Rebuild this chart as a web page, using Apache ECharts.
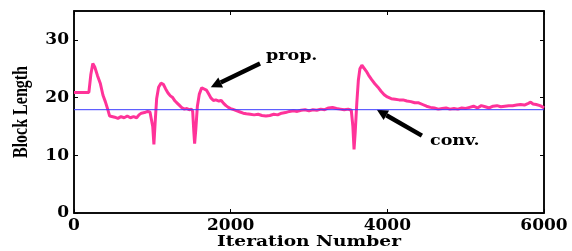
<!DOCTYPE html>
<html><head><meta charset="utf-8">
<script src="https://cdn.jsdelivr.net/npm/echarts@6/dist/echarts.min.js"></script>
<style>html,body{margin:0;padding:0;background:#fff}#c{width:572px;height:251px}</style>
</head><body><div id="c"></div>
<script>
var xTicks = [0, 2000, 4000, 6000];
var yTicks = [0, 10, 20, 30];
var convValue = 17.9;
var propData = [[0,20.9],[190,20.9],[215,24.0],[240,25.9],[265,25.3],[300,23.8],[335,22.5],[370,20.4],[400,19.3],[430,18.0],[455,16.8],[480,16.5],[520,16.6],[560,16.4],[600,16.7],[640,16.5],[680,16.8],[720,16.5],[760,16.7],[800,16.5],[830,17.0],[860,17.3],[900,17.4],[940,17.6],[970,17.5],[990,17.3],[1005,15.0],[1020,11.9],[1035,15.5],[1055,19.8],[1080,21.8],[1110,22.5],[1140,22.3],[1170,21.5],[1200,20.8],[1230,20.3],[1260,20.0],[1290,19.4],[1320,19.0],[1350,18.6],[1380,18.2],[1410,18.0],[1440,18.1],[1470,17.9],[1500,18.0],[1515,17.6],[1530,14.0],[1540,12.0],[1555,14.5],[1575,18.5],[1600,20.6],[1630,21.7],[1655,21.9],[1690,21.3],[1720,20.6],[1750,19.9],[1780,19.5],[1810,19.6],[1850,19.4],[1880,19.5],[1910,19.0],[1940,18.6],[1970,18.3],[2000,18.1],[2040,17.9],[2080,17.7],[2120,17.5],[2160,17.3],[2200,17.2],[2250,17.1],[2300,17.0],[2350,17.1],[2400,16.9],[2450,16.8],[2500,16.9],[2550,17.1],[2600,17.0],[2650,17.3],[2700,17.4],[2750,17.6],[2800,17.7],[2850,17.6],[2900,17.8],[2950,17.9],[3000,17.7],[3050,17.9],[3100,17.8],[3150,18.0],[3200,17.9],[3250,18.2],[3300,18.3],[3350,18.1],[3400,18.0],[3450,17.9],[3500,18.0],[3540,17.8],[3560,15.0],[3575,11.0],[3590,14.0],[3610,19.0],[3630,23.0],[3650,25.0],[3675,25.6],[3700,25.4],[3730,24.6],[3760,23.9],[3800,23.1],[3840,22.4],[3880,21.8],[3920,21.1],[3960,20.5],[4000,20.1],[4050,19.8],[4100,19.7],[4150,19.6],[4200,19.6],[4250,19.4],[4300,19.3],[4350,19.1],[4400,19.1],[4450,18.8],[4500,18.5],[4550,18.3],[4600,18.2],[4650,18.0],[4700,18.1],[4750,18.2],[4800,18.0],[4850,18.1],[4900,18.0],[4950,18.2],[5000,18.1],[5050,18.3],[5100,18.5],[5150,18.2],[5200,18.6],[5250,18.4],[5300,18.2],[5350,18.5],[5400,18.6],[5450,18.4],[5500,18.5],[5550,18.6],[5600,18.6],[5650,18.7],[5700,18.8],[5750,18.7],[5800,19.0],[5830,19.2],[5860,18.9],[5900,18.8],[5950,18.6],[5980,18.4],[6000,18.2]];
var annotations = [
  {text:'prop.', head:[1746,21.8], tail:[2375,25.9]},
  {text:'conv.', head:[3866,17.9], tail:[4441,13.4]}
];

var chart = echarts.init(document.getElementById('c'), null, {renderer:'canvas'});
var F = 'DejaVu Serif';
var axisLineStyle = {color:'#000', width:1.5};
function fmt(v){ return String(v); }
chart.setOption({
  animation:false,
  grid:{left:74, right:28, top:11, bottom:38, show:true, borderColor:'#000', borderWidth:1.5, backgroundColor:'transparent'},
  xAxis:[{type:'value', min:0, max:6000, interval:2000,
    axisLine:{show:true, onZero:false, lineStyle:axisLineStyle},
    axisTick:{show:true, inside:true, length:4, lineStyle:{color:'#000'}},
    axisLabel:{fontFamily:F, fontWeight:'bold', fontSize:17, color:'#000', margin:4, formatter:fmt},
    splitLine:{show:false}},
    {type:'value', position:'top', min:0, max:6000, interval:2000,
    axisLine:{show:true, onZero:false, lineStyle:axisLineStyle},
    axisTick:{show:true, inside:true, length:4, lineStyle:{color:'#000'}},
    axisLabel:{show:false}, splitLine:{show:false}}],
  yAxis:[{type:'value', min:0, max:35, interval:10,
    axisLine:{show:true, onZero:false, lineStyle:axisLineStyle},
    axisTick:{show:true, inside:true, length:4, lineStyle:{color:'#000'}},
    axisLabel:{fontFamily:F, fontWeight:'bold', fontSize:17, color:'#000', margin:5, showMaxLabel:false, formatter:fmt},
    splitLine:{show:false}},
    {type:'value', position:'right', min:0, max:35, interval:10,
    axisLine:{show:true, onZero:false, lineStyle:axisLineStyle},
    axisTick:{show:true, inside:true, length:4, lineStyle:{color:'#000'}},
    axisLabel:{show:false}, splitLine:{show:false}}],
  series:[
    {type:'line', data:[[0,convValue],[6000,convValue]], symbol:'none', xAxisIndex:1, yAxisIndex:1,
     lineStyle:{color:'#3a3aff', width:1}, z:3},
    {type:'line', data:propData, symbol:'none', xAxisIndex:0, yAxisIndex:0,
     lineStyle:{color:'#ff3399', width:3}, z:2}
  ]
});

var g = [];
g.push({type:'text', x:309, y:242, scaleX:1.24,
  style:{text:'Iteration Number', font:'bold 15px "'+F+'"', fill:'#000', align:'center', verticalAlign:'middle'}});
g.push({type:'text', x:22, y:112, rotation:Math.PI/2, scaleX:0.8,
  style:{text:'Block Length', font:'bold 20px "Liberation Serif"', fill:'#000', align:'center', verticalAlign:'middle'}});
annotations.forEach(function(a){
  var h = chart.convertToPixel({xAxisIndex:0, yAxisIndex:0}, a.head);
  var t = chart.convertToPixel({xAxisIndex:0, yAxisIndex:0}, a.tail);
  var dx = h[0]-t[0], dy = h[1]-t[1], L = Math.sqrt(dx*dx+dy*dy);
  var ux = dx/L, uy = dy/L, px = -uy, py = ux;
  var hl = 11, hw = 5.5;
  var bx = h[0]-ux*hl, by = h[1]-uy*hl;
  g.push({type:'line', shape:{x1:t[0], y1:t[1], x2:bx, y2:by}, style:{stroke:'#000', lineWidth:4.5}});
  g.push({type:'polygon', shape:{points:[[h[0],h[1]],[bx+px*hw,by+py*hw],[bx-px*hw,by-py*hw]]}, style:{fill:'#000'}});
});
g.push({type:'text', x:266, y:56, scaleX:1.25,
  style:{text:'prop.', font:'bold 14px "'+F+'"', fill:'#000', align:'left', verticalAlign:'middle'}});
g.push({type:'text', x:430, y:141, scaleX:1.25,
  style:{text:'conv.', font:'bold 14px "'+F+'"', fill:'#000', align:'left', verticalAlign:'middle'}});
chart.setOption({graphic:g});
</script></body></html>
